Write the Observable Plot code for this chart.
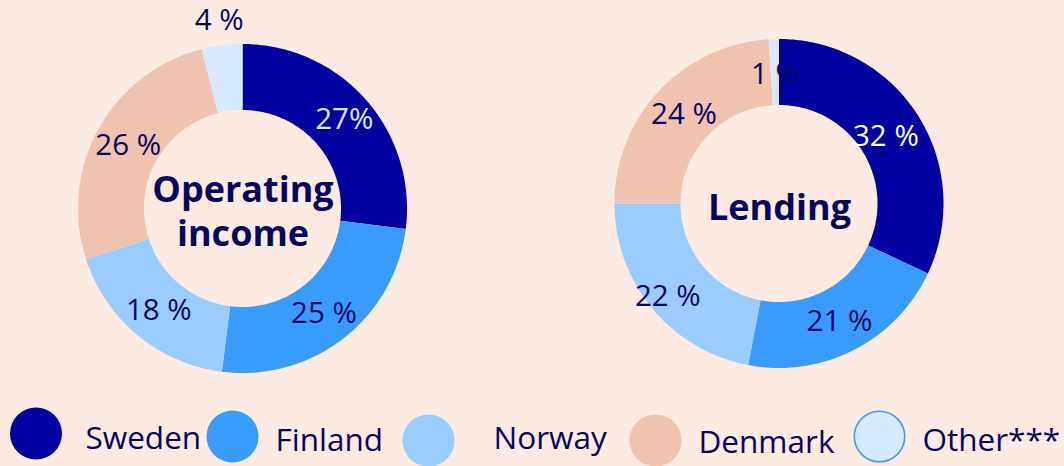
<!DOCTYPE html>
<html>
<head>
<meta charset="utf-8">
<script src="https://cdn.jsdelivr.net/npm/d3@7"></script>
<script src="https://cdn.jsdelivr.net/npm/@observablehq/plot@0.6"></script>
<style>
  html, body { margin: 0; padding: 0; background: #fcebe3; }
  #chart { width: 1064px; height: 466px; }
</style>
</head>
<body>
<div id="chart"></div>
<script>
// ---- data ----
const categories = ["Sweden", "Finland", "Norway", "Denmark", "Other"];
const legendLabels = ["Sweden", "Finland", "Norway", "Denmark", "Other***"];
const operatingIncome = [27, 25, 18, 26, 4];
const lending = [32, 21, 22, 24, 1];
const operatingIncomeLabels = ["27%", "25 %", "18 %", "26 %", "4 %"];
const lendingLabels = ["32 %", "21 %", "22 %", "24 %", "1 %"];
const colors = ["#0000a0", "#3a9bff", "#99ccff", "#f0c2b0", "#d6e9ff"];

// ---- layout ----
const W = 1064, H = 466;
const navy = "#06065e";
const R = 164.5, r = 98.5, outsideR = 190;
const donuts = [
  {name: "Operating income", title: "Operating\nincome", values: operatingIncome, labels: operatingIncomeLabels, cx: 242.5, cy: 208.5, labelR: [135, 132, 132, 131, 190], sweLabel: "#dceaff", titleDy: 1},
  {name: "Lending", title: "Lending", values: lending, labels: lendingLabels, cx: 779, cy: 203.5, labelR: [126, 132, 145, 131, 130], sweLabel: "#ffffff", titleDy: 2}
];
const legendDotX = [35.5, 232, 428, 655, 879];
const legendDotY = [433, 436, 440, 440, 436];
const legendTextX = [85, 275, 493, 698, 922];
const legendTextY = [438, 440, 438, 442, 440];

const ringRows = [];
const labelRows = [];
for (const dn of donuts) {
  const arcs = d3.pie().sort(null)(dn.values);
  arcs.forEach((a, i) => {
    const n = Math.max(2, Math.ceil((a.endAngle - a.startAngle) / (Math.PI / 180)));
    for (let k = 0; k <= n; k++) {
      const t = a.startAngle + (a.endAngle - a.startAngle) * k / n;
      ringRows.push({
        key: dn.name + i, country: categories[i],
        xo: dn.cx + R * Math.sin(t), yo: dn.cy - R * Math.cos(t),
        xi: dn.cx + r * Math.sin(t), yi: dn.cy - r * Math.cos(t)
      });
    }
    const mid = (a.startAngle + a.endAngle) / 2;
    const lr = dn.labelR[i];
    labelRows.push({
      x: dn.cx + lr * Math.sin(mid), y: dn.cy - lr * Math.cos(mid),
      text: dn.labels[i], color: i === 0 ? dn.sweLabel : navy
    });
  });
}

const chart = Plot.plot({
  width: W, height: H,
  margin: 0,
  style: {background: "#fcebe3", fontFamily: "'Open Sans', 'Noto Sans', sans-serif"},
  x: {domain: [0, W], range: [0, W], axis: null},
  y: {domain: [0, H], range: [0, H], axis: null},
  color: {domain: categories, range: colors},
  marks: [
    Plot.area(ringRows, {x1: "xi", y1: "yi", x2: "xo", y2: "yo", z: "key", fill: "country"}),
    Plot.text(labelRows, {x: "x", y: "y", text: "text", fill: "color", fontSize: 29.5}),
    Plot.text(donuts, {x: "cx", y: d => d.cy + d.titleDy, text: "title", fill: navy, fontSize: 36, fontWeight: "bold", lineHeight: 1.22}),
    Plot.dot(categories, {x: (d, i) => legendDotX[i], y: (d, i) => legendDotY[i], r: 26, fill: d => d}),
    Plot.dot(categories.filter(d => d === "Other"), {x: () => legendDotX[4], y: () => legendDotY[4], r: 25.2, stroke: "#3a9bff", strokeWidth: 1.6, fill: "none"}),
    Plot.text(legendLabels, {x: (d, i) => legendTextX[i], y: (d, i) => legendTextY[i], text: d => d, textAnchor: "start", fill: navy, fontSize: 31.5})
  ]
});
document.getElementById("chart").append(chart);
</script>
</body>
</html>
